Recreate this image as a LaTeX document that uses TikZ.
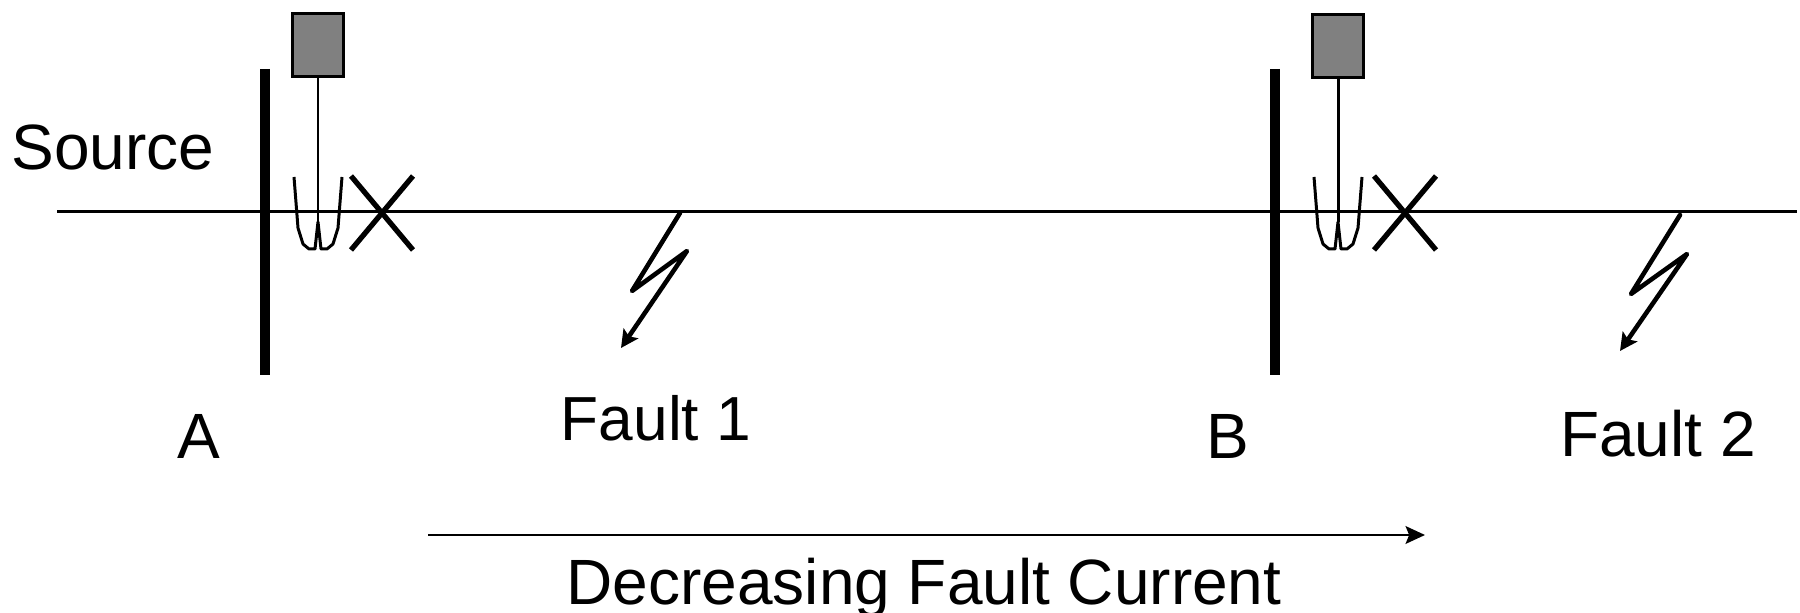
\documentclass[tikz,border=0pt]{standalone}
\usepackage{fontspec}
\setmainfont{Liberation Sans}
\usetikzlibrary{arrows.meta}
\tikzset{
    wire/.style={line width=0.85pt},
    busbar/.style={line width=3pt},
    breaker/.style={line width=1.5pt},
    bolt/.style={line width=1.3pt, line join=round, line cap=round, -{Stealth[length=5pt, width=5pt, inset=1pt]}},
    relay/.style={draw, line width=0.8pt, fill=black!50, minimum width=14.5pt, minimum height=18pt, inner sep=0pt},
    label/.style={inner sep=0pt, anchor=base, font=\fontsize{18.2}{21}\selectfont}
}
\begin{document}
\begin{tikzpicture}[x=0.01cm, y=-0.01cm]
    \useasboundingbox (0, 0) rectangle (1800, 613);
    % feeder
    \coordinate (lineL) at (57, 212);
    \coordinate (lineR) at (1797, 212);
    \draw[wire] (lineL) -- (lineR);
    % bus, relay, CT and breaker at each end
    \foreach \n/\b/\r/\c/\t in {A/265/318/382/45, B/1275/1338/1405/46}
        {\coordinate (bus\n top) at (\b, 69);
        \coordinate (bus\n bot) at (\b, 375);
        \draw[busbar] (bus\n top) -- (bus\n bot);
        \node[relay] (relay\n) at (\r, \t) {};
        \coordinate (ct\n) at (\r, 222);
        \draw[wire] (relay\n.south) -- (ct\n);
        \draw[wire, line join=round] (\r-24, 177) -- (\r-20, 228) -- (\r-15, 244) -- (\r-9, 249) -- (\r-3, 249) -- (ct\n)
            -- (\r+3, 249) -- (\r+9, 249) -- (\r+15, 244) -- (\r+20, 228) -- (\r+24, 177);
        \draw[breaker] (\c-31, 176) -- (\c+31, 250);
        \draw[breaker] (\c+31, 176) -- (\c-31, 250);}
    % faults
    \coordinate (faultA) at (680, 213);
    \coordinate (faultB) at (1680, 215);
    \coordinate (tipA) at (621, 348);
    \coordinate (tipB) at (1620, 351);
    \draw[bolt] (faultA) -- (632, 291) -- (687, 251) -- (tipA);
    \draw[bolt] (faultB) -- (1631, 294) -- (1687, 254) -- (tipB);
    % labels
    \node[label] (source) at (113, 170) {Source};
    \node[label] (labelA) at (199, 459) {A};
    \node[label] (labelB) at (1228, 459) {B};
    \node[label, font=\fontsize{17.7}{21}\selectfont] (fault1) at (656, 441) {Fault 1};
    \node[label] (fault2) at (1658, 457) {Fault 2};
    % current direction
    \coordinate (arrowL) at (428, 535);
    \coordinate (arrowR) at (1425, 535);
    \draw[wire, -{Stealth[length=5.5pt, width=5pt, inset=1pt]}] (arrowL) -- (arrowR);
    \node[label] (current) at (924, 605) {Decreasing Fault Current};
\end{tikzpicture}
\end{document}
